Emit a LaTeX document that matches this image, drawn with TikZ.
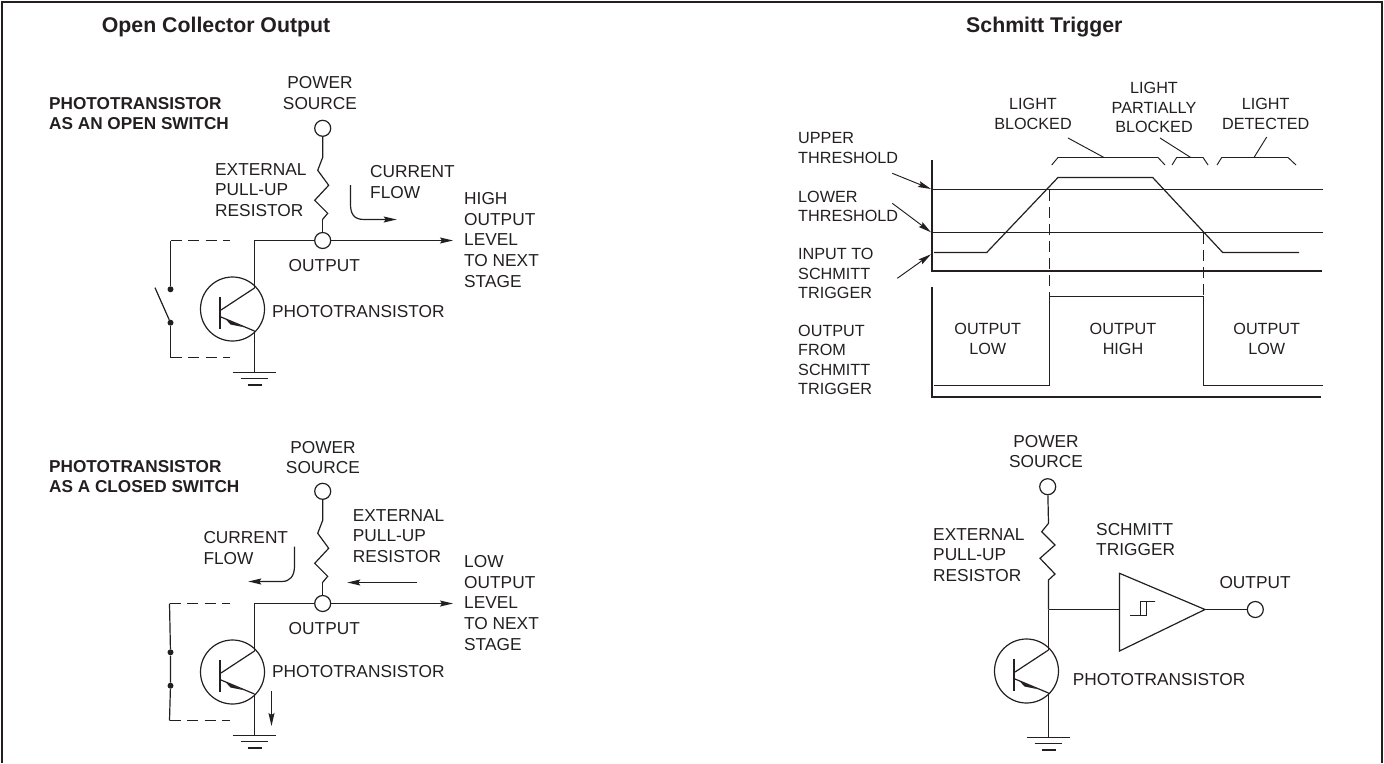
\documentclass[tikz,border=0pt]{standalone}
\usepackage{fontspec}
\setmainfont{Liberation Sans}
\usetikzlibrary{arrows.meta}
\definecolor{ink}{HTML}{231F20}
\tikzset{
  wire/.style={draw=ink,line width=1.2pt,line join=miter},
  thin wire/.style={draw=ink,line width=.95pt},
  heavy/.style={draw=ink,line width=1.9pt},
  arrowed/.style={wire,-{Stealth[length=13pt,width=6pt,inset=2pt]}},
  dashline/.style={wire,dash pattern=on 11pt off 6.5pt},
  term/.style={circle,draw=ink,line width=1.2pt,fill=white,minimum size=16pt,inner sep=0pt},
  dot/.style={circle,fill=ink,minimum size=6pt,inner sep=0pt},
  lbl/.style={font=\fontsize{17.3}{20.6}\selectfont,text=ink,inner sep=0pt,align=left,anchor=west},
  clbl/.style={font=\fontsize{17.3}{20.4}\selectfont,text=ink,inner sep=0pt,align=center,anchor=center},
  gl/.style={font=\fontsize{16.2}{19.3}\selectfont,text=ink,inner sep=0pt,align=left,anchor=west},
  gc/.style={font=\fontsize{16.2}{19.3}\selectfont,text=ink,inner sep=0pt,align=center,anchor=center},
  blbl/.style={font=\bfseries\fontsize{17.2}{20.3}\selectfont,text=ink,inner sep=0pt,align=left,anchor=west},
  tlbl/.style={font=\bfseries\fontsize{21.3}{24}\selectfont,text=ink,inner sep=0pt,anchor=west},
}
\newcommand{\pullup}[3]{%
  \begin{scope}[shift={(#2,#3)},name prefix=#1]
    \node[term] (ps) at (0,0) {};
    \coordinate (r0) at (0,29);
    \coordinate (r1) at (-5,42);
    \coordinate (r2) at (6,57);
    \coordinate (r3) at (-8,72);
    \coordinate (r4) at (5,85);
    \coordinate (r5) at (0,91);
    \draw[wire] (ps) -- (r0) -- (r1) -- (r2) -- (r3) -- (r4) -- (r5);
  \end{scope}}
\newcommand{\phototr}[3]{%
  \begin{scope}[shift={(#2,#3)},name prefix=#1]
    \node[circle,draw=ink,line width=1.2pt,minimum size=64pt,inner sep=0pt] (body) at (-22,21) {};
    \coordinate (c) at (0,0);
    \coordinate (b) at (-33.5,22);
    \coordinate (bt) at (-34.5,8.7);
    \coordinate (bb) at (-34.5,41);
    \coordinate (eb) at (-33.5,29);
    \coordinate (e) at (0,43);
    \draw[wire] (c) -- (b);
    \draw[wire] (bt) -- (bb);
    \draw[wire] (eb) -- (e);
    \fill[ink] (-10.7,39.2) -- (-29,31) -- (-24,36.5) -- cycle;
  \end{scope}}
\newcommand{\gnd}[3]{%
  \begin{scope}[shift={(#2,#3)},name prefix=#1]
    \coordinate (g) at (0,0);
    \draw[wire] (-22,0) -- (21.5,0);
    \draw[wire] (-14,6.3) -- (13,6.3);
    \draw[wire] (-7,12.5) -- (7,12.5);
  \end{scope}}
\begin{document}
\begin{tikzpicture}[x=1pt,y=-1pt]
\useasboundingbox (0,0) rectangle (1384,763);
\draw[draw=ink,line width=1.8pt] (2,763) -- (2,2) -- (1382,2) -- (1382,763);

% titles
\node[tlbl] (t1) at (101.7,27) {Open Collector Output};
\node[tlbl] (t2) at (966,27) {Schmitt Trigger};

% ---- open switch
\node[blbl] (h1) at (49,113.3) {PHOTOTRANSISTOR\\AS AN OPEN SWITCH};
\node[clbl] (p1) at (320,93) {POWER\\SOURCE};
\pullup{a}{322.7}{128.3}
\node[term] (ao) at (322.7,240.5) {};
\draw[wire] (ar5) -- (ao);
\node[lbl] (e1) at (215,190) {EXTERNAL\\PULL-UP\\RESISTOR};
\node[lbl] (cf1) at (370,182) {CURRENT\\FLOW};
\coordinate (cf1a) at (350.5,185);
\coordinate (cf1b) at (396.7,219.5);
\draw[arrowed] (cf1a) -- (350.5,204) .. controls (350.5,214) and (354,219.5) .. (364,219.5) -- (cf1b);
\phototr{at}{254.5}{288}
\coordinate (acn) at (254.5,240.5);
\draw[wire] (atc) -- (acn) -- (ao);
\coordinate (aout) at (453,240.5);
\draw[arrowed] (ao) -- (aout);
\node[clbl] (ol1) at (324.3,265.7) {OUTPUT};
\node[lbl] (ph1) at (272,311.7) {PHOTOTRANSISTOR};
\node[lbl] (hi) at (464,240) {HIGH\\OUTPUT\\LEVEL\\TO NEXT\\STAGE};
\gnd{ag}{254.5}{372.5}
\draw[wire] (ate) -- (agg);
\node[dot] (as1) at (170.5,289.3) {};
\node[dot] (as2) at (170.5,322.7) {};
\coordinate (ad1) at (170.5,240.5);
\coordinate (ad1e) at (230,240.5);
\coordinate (ad2) at (170.5,357.5);
\coordinate (ad2e) at (230,357.5);
\coordinate (ablade) at (155,287.7);
\draw[wire] (as1) -- (ad1);
\draw[dashline] (ad1) -- (ad1e);
\draw[wire] (as2) -- (ad2);
\draw[dashline] (ad2) -- (ad2e);
\draw[wire] (ablade) -- (as2);

% ---- closed switch
\node[blbl] (h2) at (49,476.5) {PHOTOTRANSISTOR\\AS A CLOSED SWITCH};
\node[clbl] (p2) at (323,457.7) {POWER\\SOURCE};
\pullup{b}{322.7}{491.3}
\node[term] (bo) at (322.7,603.5) {};
\draw[wire] (br5) -- (bo);
\node[lbl] (e2) at (352.7,536) {EXTERNAL\\PULL-UP\\RESISTOR};
\node[lbl] (cf2) at (203.3,548) {CURRENT\\FLOW};
\coordinate (cf2a) at (294.5,546.7);
\coordinate (cf2b) at (248.3,581.5);
\draw[arrowed] (cf2a) -- (294.5,566) .. controls (294.5,576) and (290,581.5) .. (282,581.5) -- (cf2b);
\coordinate (ra1) at (417.3,582.5);
\coordinate (ra2) at (347.3,582.5);
\draw[arrowed] (ra1) -- (ra2);
\phototr{bt}{254.5}{651}
\coordinate (bcn) at (254.5,603.5);
\draw[wire] (btc) -- (bcn) -- (bo);
\coordinate (bout) at (453,603.5);
\draw[arrowed] (bo) -- (bout);
\node[clbl] (ol2) at (324.3,628.7) {OUTPUT};
\node[lbl] (ph2) at (272,671.7) {PHOTOTRANSISTOR};
\node[lbl] (lo) at (464,603) {LOW\\OUTPUT\\LEVEL\\TO NEXT\\STAGE};
\gnd{bg}{254.5}{735.5}
\draw[wire] (bte) -- (bgg);
\coordinate (da1) at (271.5,691);
\coordinate (da2) at (271.5,726);
\draw[arrowed] (da1) -- (da2);
\node[dot] (bs1) at (170.5,652.3) {};
\node[dot] (bs2) at (170.5,685.7) {};
\coordinate (bd1) at (169.5,603.5);
\coordinate (bd1e) at (230,603.5);
\coordinate (bd2) at (169.5,720.5);
\coordinate (bd2e) at (230,720.5);
\draw[wire] (bd1) -- (bs1) -- (bs2) -- (bd2);
\draw[dashline] (bd1) -- (bd1e);
\draw[dashline] (bd2) -- (bd2e);

% ---- timing chart
\coordinate (ax1t) at (932,160);
\coordinate (ax1o) at (932,271);
\coordinate (ax1r) at (1321.7,271);
\coordinate (ax2t) at (932,286.7);
\coordinate (ax2o) at (932,397);
\coordinate (ax2r) at (1321,397);
\draw[heavy] (ax1t) -- (ax1o) -- (ax1r);
\draw[heavy] (ax2t) -- (ax2o) -- (ax2r);
\coordinate (ut0) at (932,189.5);
\coordinate (ut1) at (1323.3,189.5);
\coordinate (lt0) at (932,232.5);
\coordinate (lt1) at (1323.3,232.5);
\draw[thin wire] (ut0) -- (ut1);
\draw[thin wire] (lt0) -- (lt1);
\coordinate (i0) at (934,252.5);
\coordinate (i1) at (986.7,252.5);
\coordinate (i2) at (1058,177.5);
\coordinate (i3) at (1152.7,177.5);
\coordinate (i4) at (1222.7,252.5);
\coordinate (i5) at (1299,252.5);
\draw[wire] (i0) -- (i1) -- (i2) -- (i3) -- (i4) -- (i5);
\coordinate (o0) at (934,385.5);
\coordinate (o1) at (1049.5,385.5);
\coordinate (o2) at (1049.5,296.5);
\coordinate (o3) at (1203.5,296.5);
\coordinate (o4) at (1203.5,385.5);
\coordinate (o5) at (1322.7,385.5);
\draw[wire] (o0) -- (o1) -- (o2) -- (o3) -- (o4) -- (o5);
\coordinate (du) at (1049.5,189.5);
\coordinate (dl) at (1203.5,232.5);
\draw[thin wire,dash pattern=on 11pt off 6pt] (du) -- (o2);
\draw[thin wire,dash pattern=on 11pt off 6pt] (dl) -- (o3);
% brackets
\draw[thin wire] (1051.7,165) -- (1058,157.5) -- (1158,157.5) -- (1165,165);
\draw[thin wire] (1172,165) -- (1176.7,157.5) -- (1203,157.5) -- (1208,165);
\draw[thin wire] (1217,165) -- (1221.7,157.5) -- (1288,157.5) -- (1296,165);
\coordinate (l1a) at (1068,138);
\coordinate (l1b) at (1104,157.5);
\coordinate (l2a) at (1160,138);
\coordinate (l2b) at (1190.7,157.5);
\coordinate (l3a) at (1266.7,137);
\coordinate (l3b) at (1254,157.5);
\draw[thin wire] (l1a) -- (l1b);
\draw[thin wire] (l2a) -- (l2b);
\draw[thin wire] (l3a) -- (l3b);
\node[gc] (lb) at (1033,114) {LIGHT\\BLOCKED};
\node[gc] (lp) at (1154,107.5) {LIGHT\\PARTIALLY\\BLOCKED};
\node[gc] (ld) at (1265.7,114) {LIGHT\\DETECTED};
\node[gl] (ut) at (798,148) {UPPER\\THRESHOLD};
\node[gl] (lt) at (798,206.5) {LOWER\\THRESHOLD};
\node[gl] (it) at (798,273.7) {INPUT TO\\SCHMITT\\TRIGGER};
\node[gl] (ot) at (798,360) {OUTPUT\\FROM\\SCHMITT\\TRIGGER};
\coordinate (ua) at (892.3,173.3);
\coordinate (la) at (892.3,203.3);
\coordinate (ia) at (897.3,278.3);
\coordinate (ib) at (931,254.3);
\draw[arrowed,thin wire] (ua) -- (931,189);
\draw[arrowed,thin wire] (la) -- (931,232.3);
\draw[arrowed,thin wire] (ia) -- (ib);
\node[gc] (q1) at (987.7,339) {OUTPUT\\LOW};
\node[gc] (q2) at (1123,339) {OUTPUT\\HIGH};
\node[gc] (q3) at (1266.7,339) {OUTPUT\\LOW};

% ---- Schmitt circuit
\node[clbl] (p3) at (1046,451.5) {POWER\\SOURCE};
\node[term] (cps) at (1047.7,486.7) {};
\coordinate (c0) at (1048.5,523.3);
\coordinate (c1) at (1041.7,531.7);
\coordinate (c2) at (1055,545);
\coordinate (c3) at (1040,558.3);
\coordinate (c4) at (1055,574);
\coordinate (c5) at (1048.5,580);
\coordinate (cj) at (1048.5,609.5);
\draw[wire] (cps) -- (c0) -- (c1) -- (c2) -- (c3) -- (c4) -- (c5) -- (cj);
\phototr{ct}{1048.5}{650}
\draw[wire] (cj) -- (ctc);
\gnd{cg}{1048.5}{737.5}
\draw[wire] (cte) -- (cgg);
\coordinate (tt) at (1119.5,573.3);
\coordinate (tb) at (1119.5,651);
\coordinate (tl) at (1119.5,609.5);
\coordinate (tr) at (1205,609.5);
\draw[wire] (tt) -- (tb) -- (tr) -- cycle;
\draw[wire] (cj) -- (tl);
\node[term] (co) at (1255.3,609.5) {};
\draw[wire] (tr) -- (co);
\draw[wire] (1130,615.5) -- (1146.5,615.5) -- (1146.5,601.5) -- (1155,601.5) -- (1140.5,601.5) -- (1140.5,615.5);
\node[lbl] (e3) at (933,555) {EXTERNAL\\PULL-UP\\RESISTOR};
\node[lbl] (st) at (1096,539.5) {SCHMITT\\TRIGGER};
\node[lbl] (o3l) at (1219.3,583) {OUTPUT};
\node[lbl] (ph3) at (1072.7,680) {PHOTOTRANSISTOR};
\end{tikzpicture}
\end{document}
